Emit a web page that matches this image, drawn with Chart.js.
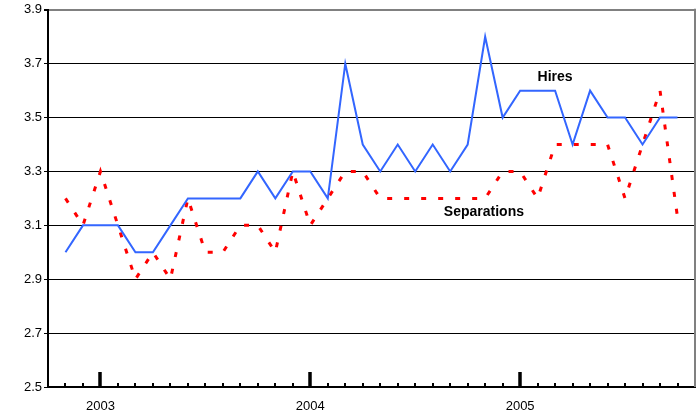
<!DOCTYPE html>
<html>
<head>
<meta charset="utf-8">
<script src="https://cdn.jsdelivr.net/npm/chart.js@4/dist/chart.umd.min.js"></script>
<style>
    body { margin: 0; background: #fff; }
    #container { width: 699px; height: 412px; }
</style>
</head>
<body>
<div id="container"><canvas id="chartContainer"></canvas></div>
<script>
// monthly points, Nov 2002 .. Oct 2005
const hires = [3.0, 3.1, 3.1, 3.1, 3.0, 3.0, 3.1, 3.2, 3.2, 3.2, 3.2, 3.3,
    3.2, 3.3, 3.3, 3.2, 3.7, 3.4, 3.3, 3.4, 3.3, 3.4, 3.3, 3.4,
    3.8, 3.5, 3.6, 3.6, 3.6, 3.4, 3.6, 3.5, 3.5, 3.4, 3.5, 3.5];
const separations = [3.2, 3.1, 3.3, 3.1, 2.9, 3.0, 2.9, 3.2, 3.0, 3.0, 3.1, 3.1,
    3.0, 3.3, 3.1, 3.2, 3.3, 3.3, 3.2, 3.2, 3.2, 3.2, 3.2, 3.2,
    3.2, 3.3, 3.3, 3.2, 3.4, 3.4, 3.4, 3.4, 3.2, 3.4, 3.6, 3.13];
// year labels sit under the January point of each year
const yearLabels = ["2003", "2004", "2005"];
const yearIndex = [2, 14, 26];
const seriesNames = ["Hires", "Separations"];

function toPoints(values) {
    var pts = [];
    for (var i = 0; i < values.length; i++) {
        pts.push({x: i, y: values[i]});
    }
    return pts;
}

const frame = {
    id: 'frame',
    afterDatasetsDraw(chart) {
        const ctx = chart.ctx;
        const area = chart.chartArea;
        const x = chart.scales.x;
        const y = chart.scales.y;
        ctx.save();
        // right border of the plot
        ctx.strokeStyle = '#808080';
        ctx.lineWidth = 2;
        ctx.beginPath();
        ctx.moveTo(area.right, area.top - 1);
        ctx.lineTo(area.right, area.bottom);
        ctx.stroke();
        // month ticks pointing up from the axis
        ctx.strokeStyle = '#000';
        for (var i = 0; i < hires.length; i++) {
            var px = Math.round(x.getPixelForValue(i));
            var major = yearIndex.indexOf(i) >= 0;
            ctx.lineWidth = major ? 3.5 : 2;
            ctx.beginPath();
            ctx.moveTo(px, area.bottom);
            ctx.lineTo(px, area.bottom - (major ? 15 : 4));
            ctx.stroke();
        }
        // series names
        ctx.fillStyle = '#000';
        ctx.font = 'bold 14px "Liberation Sans", Arial, sans-serif';
        ctx.textAlign = 'center';
        ctx.textBaseline = 'middle';
        ctx.fillText(seriesNames[0], x.getPixelForValue(28), y.getPixelForValue(3.65));
        ctx.fillText(seriesNames[1], x.getPixelForValue(23.93), y.getPixelForValue(3.149));
        ctx.restore();
    }
};

const config = {
    type: 'line',
    data: {
        datasets: [{
            label: seriesNames[0],
            data: toPoints(hires),
            borderColor: '#3366ff',
            borderWidth: 2,
            pointRadius: 0,
            tension: 0
        }, {
            label: seriesNames[1],
            data: toPoints(separations),
            borderColor: '#ff0000',
            borderWidth: 3,
            borderDash: [5, 12],
            pointRadius: 0,
            tension: 0
        }]
    },
    options: {
        responsive: true,
        maintainAspectRatio: false,
        animation: false,
        layout: {padding: {top: 7, right: 4, left: 0, bottom: 0}},
        plugins: {
            legend: {display: false},
            tooltip: {enabled: false}
        },
        scales: {
            x: {
                type: 'linear',
                min: -1,
                max: 36,
                afterFit: function (scale) { scale.height = 25; },
                afterBuildTicks: function (scale) {
                    scale.ticks = [];
                    for (var k = 0; k < yearIndex.length; k++) {
                        scale.ticks.push({value: yearIndex[k]});
                    }
                },
                grid: {display: false},
                border: {display: true, color: '#000', width: 2},
                ticks: {
                    autoSkip: false,
                    maxRotation: 0,
                    padding: 4,
                    color: '#000',
                    font: {family: '"Liberation Sans", Arial, sans-serif', size: 13},
                    callback: function (v) {
                        var k = yearIndex.indexOf(v);
                        return k >= 0 ? yearLabels[k] : '';
                    }
                }
            },
            y: {
                min: 2.5,
                max: 3.9,
                afterFit: function (scale) { scale.width = 48; },
                grid: {
                    color: function (c) {
                        return Math.abs(c.tick.value - 3.9) < 1e-6 ? '#808080' : '#000';
                    },
                    lineWidth: function (c) {
                        return Math.abs(c.tick.value - 3.9) < 1e-6 ? 2 : 1;
                    },
                    tickColor: '#000',
                    tickLength: 4
                },
                border: {display: true, color: '#000', width: 2},
                ticks: {
                    stepSize: 0.2,
                    padding: 2,
                    color: '#000',
                    font: {family: '"Liberation Sans", Arial, sans-serif', size: 13},
                    callback: function (v) { return v.toFixed(1); }
                }
            }
        }
    },
    plugins: [frame]
};

const myChart = new Chart(document.getElementById('chartContainer'), config);
</script>
</body>
</html>
